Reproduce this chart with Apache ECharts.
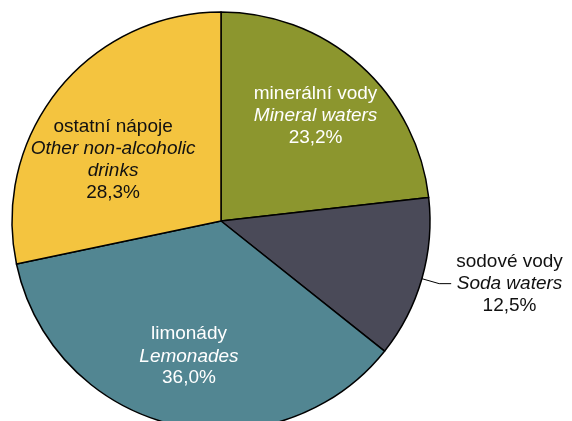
<!DOCTYPE html>
<html>
<head>
<meta charset="utf-8">
<script src="https://cdn.jsdelivr.net/npm/echarts@6/dist/echarts.min.js"></script>
<style>
  html, body { margin: 0; padding: 0; background: #fff; }
  #chart { width: 572px; height: 421px; }
</style>
</head>
<body>
<div id="chart"></div>
<script>
// data
var namesCz = ['minerální vody', 'sodové vody', 'limonády', 'ostatní nápoje'];
var namesEn = ['Mineral waters', 'Soda waters', 'Lemonades', 'Other non-alcoholic\ndrinks'];
var shares = [23.2, 12.5, 36.0, 28.3];
var colors = ['#8c962e', '#4a4a58', '#528692', '#f4c43f'];
var textColors = ['#ffffff', '#111111', '#ffffff', '#111111'];
var outsideIdx = 1; // soda waters label sits outside

var fmt = function (v) {
  return v.toFixed(1).replace('.', ',') + '%';
};

var labelText = function (i) {
  return '{a|' + namesCz[i] + '}\n{b|' + namesEn[i] + '}\n{a|' + fmt(shares[i]) + '}';
};

var richFor = function (col) {
  return {
    a: { color: col, fontSize: 19, lineHeight: 22, fontFamily: 'Liberation Sans', align: 'center' },
    b: { color: col, fontSize: 19, lineHeight: 22, fontFamily: 'Liberation Sans', fontStyle: 'italic', align: 'center' }
  };
};

var center = [221, 221];

var sliceData = [];
var labelData = [];
for (var i = 0; i < shares.length; i++) {
  sliceData.push({
    name: namesEn[i],
    value: shares[i],
    itemStyle: { color: colors[i] },
    label: i === outsideIdx ? {
      show: true,
      position: 'outside',
      formatter: labelText(i),
      rich: richFor(textColors[i])
    } : { show: false },
    labelLine: { show: i === outsideIdx }
  });
  labelData.push({
    name: namesEn[i],
    value: shares[i],
    label: i === outsideIdx ? { show: false } : {
      show: true,
      position: 'inside',
      formatter: labelText(i),
      rich: richFor(textColors[i]),
      offset: i === 3 ? [0, 26] : (i === 0 ? [2, -2] : [0, 0])
    }
  });
}

var myChart = echarts.init(document.getElementById('chart'), null, { renderer: 'canvas' });
myChart.setOption({
  animation: false,
  backgroundColor: '#ffffff',
  series: [
    {
      type: 'pie',
      center: center,
      radius: 209,
      startAngle: 90,
      clockwise: true,
      avoidLabelOverlap: false,
      itemStyle: { borderColor: '#000000', borderWidth: 1.5 },
      labelLine: {
        length: 18,
        length2: 12,
        smooth: false,
        lineStyle: { color: '#000000', width: 1 }
      },
      emphasis: { disabled: true },
      data: sliceData
    },
    {
      // transparent twin pie, only used to place the inner labels further out
      type: 'pie',
      center: center,
      radius: 272,
      startAngle: 90,
      clockwise: true,
      silent: true,
      avoidLabelOverlap: false,
      itemStyle: { color: 'rgba(0,0,0,0)', borderWidth: 0 },
      labelLine: { show: false },
      emphasis: { disabled: true },
      data: labelData
    }
  ]
});
</script>
</body>
</html>
